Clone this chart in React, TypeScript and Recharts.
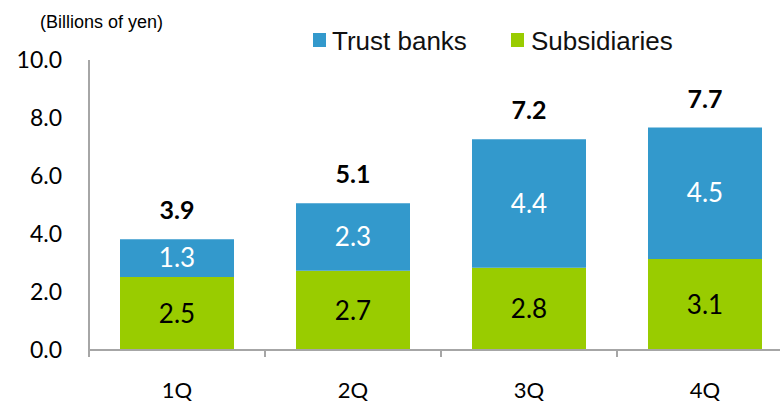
import * as React from "react"
import { Bar, BarChart, LabelList, Legend, XAxis, YAxis } from "recharts"

const quarters = ["1Q", "2Q", "3Q", "4Q"]
const subsidiaries = [2.52, 2.73, 2.84, 3.14]
const trustBanks = [1.3, 2.33, 4.43, 4.53]
const totals = [3.9, 5.1, 7.2, 7.7]
const yTicks = [0, 2, 4, 6, 8, 10]

const BLUE = "#3399cc"
const GREEN = "#99cc00"
const AXIS = "#a6a6a6"
const NUM_FONT = "Lato, 'Open Sans', sans-serif"
const TEXT_FONT = "'Liberation Sans', Arial, sans-serif"

const data = quarters.map((q, i) => ({
  q,
  subs: subsidiaries[i],
  trust: trustBanks[i],
}))

// x axis: label at centre, small tick marks at the category edges
const QuarterTick = (props: any) => {
  const { x, y, payload, index } = props
  const half = payload?.offset ?? 88
  return (
    <g>
      <line x1={x - half} x2={x - half} y1={y} y2={y + 7} stroke={AXIS} strokeWidth={2} />
      {index === quarters.length - 1 ? (
        <line x1={x + half} x2={x + half} y1={y} y2={y + 7} stroke={AXIS} strokeWidth={2} />
      ) : null}
      <text x={x} y={y + 48} textAnchor="middle" fontFamily={NUM_FONT} fontSize={22} fill="#000">
        {payload.value}
      </text>
    </g>
  )
}

const TotalLabel = (props: any) => {
  const { x, y, width, index } = props
  return (
    <text
      x={x + width / 2}
      y={y - 20}
      textAnchor="middle"
      fontFamily={NUM_FONT}
      fontWeight={700}
      fontSize={25}
      fill="#000"
    >
      {totals[index].toFixed(1)}
    </text>
  )
}

const LegendBox = () => {
  const items = [
    { name: "Trust banks", color: BLUE, left: 313, textLeft: 332 },
    { name: "Subsidiaries", color: GREEN, left: 511, textLeft: 531 },
  ]
  return (
    <div style={{ position: "relative", width: 800, height: 60 }}>
      {items.map((it) => (
        <React.Fragment key={it.name}>
          <span
            style={{
              position: "absolute",
              left: it.left,
              top: 33,
              width: 13,
              height: 14,
              background: it.color,
            }}
          />
          <span
            style={{
              position: "absolute",
              left: it.textLeft,
              top: 23,
              fontFamily: TEXT_FONT,
              fontSize: 26,
              lineHeight: "36px",
              color: "#111",
              whiteSpace: "nowrap",
            }}
          >
            {it.name}
          </span>
        </React.Fragment>
      ))}
    </div>
  )
}

export default function App() {
  return (
    <div
      style={{
        position: "absolute",
        left: 0,
        top: 0,
        width: 780,
        height: 402,
        overflow: "hidden",
        background: "#fff",
      }}
    >
      <BarChart
        width={800}
        height={402}
        data={data}
        margin={{ top: 0, right: 7, bottom: 0, left: 0 }}
      >
        {/* legend takes the top 60px of the chart */}
        <Legend
          verticalAlign="top"
          height={60}
          content={() => <LegendBox />}
          wrapperStyle={{ position: "absolute", top: 0, left: 0, width: 800, height: 60 }}
        />
        <XAxis
          dataKey="q"
          height={52}
          tickLine={false}
          tickSize={0}
          tickMargin={0}
          axisLine={{ stroke: AXIS, strokeWidth: 2 }}
          tick={<QuarterTick />}
          interval={0}
        />
        <YAxis
          width={89}
          domain={[0, 10]}
          ticks={yTicks}
          tickFormatter={(v: number) => v.toFixed(1)}
          tickLine={false}
          tickSize={0}
          tickMargin={27}
          axisLine={{ stroke: AXIS, strokeWidth: 2 }}
          tick={{ fontFamily: NUM_FONT, fontSize: 23, fill: "#000" }}
          label={{
            content: () => (
              <text x={40} y={28} fontFamily={TEXT_FONT} fontSize={18} fill="#000">
                (Billions of yen)
              </text>
            ),
          }}
        />
        <Bar dataKey="subs" stackId="a" fill={GREEN} barSize={114} isAnimationActive={false}>
          <LabelList
            dataKey="subs"
            position="center"
            formatter={(v: any) => Number(v).toFixed(1)}
            style={{ fontFamily: NUM_FONT, fontSize: 26, fill: "#000" }}
          />
        </Bar>
        <Bar dataKey="trust" stackId="a" fill={BLUE} barSize={114} isAnimationActive={false}>
          <LabelList
            dataKey="trust"
            position="center"
            formatter={(v: any) => Number(v).toFixed(1)}
            style={{ fontFamily: NUM_FONT, fontSize: 26, fill: "#fff" }}
          />
          <LabelList dataKey="trust" content={<TotalLabel />} />
        </Bar>
      </BarChart>
    </div>
  )
}
